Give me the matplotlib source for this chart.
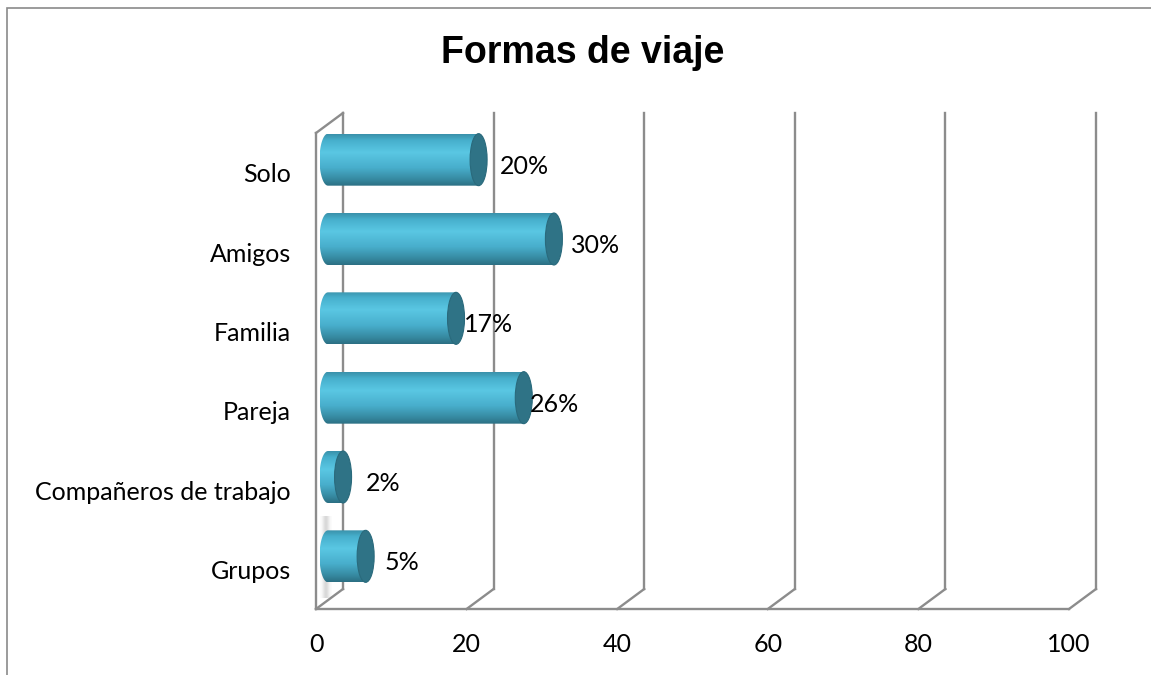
import matplotlib.pyplot as plt
import numpy as np
from matplotlib.patches import Ellipse, Polygon, Rectangle
from matplotlib.colors import to_rgb

# Datos
categorias = ['Grupos', 'Compañeros de trabajo', 'Pareja', 'Familia', 'Amigos', 'Solo']
valores = [5, 2, 26, 17, 30, 20]
ticks_x = [0, 20, 40, 60, 80, 100]

# separacion (px) de cada etiqueta de porcentaje respecto al final de la barra
nudge_px = [31, 35, 18, 20, 29, 33]

W, H = 1151, 675
fig = plt.figure(figsize=(W / 100, H / 100), dpi=100)
fig.patch.set_facecolor('white')

# marco del area del grafico (solo se ven el borde superior e izquierdo)
fig.patches.append(Rectangle((7 / W, -0.1), 1.2, 1 - 8 / H + 0.1, transform=fig.transFigure,
                             fill=False, ec='#8a8a8a', lw=1.2))

ax = fig.add_axes([316 / W, (H - 609) / H, 753 / W, 476 / H])
ax.set_xlim(0, 100)
ax.set_ylim(-0.5, 5.5)
for s in ax.spines.values():
    s.set_visible(False)

font = 'Lato'
fs = 18
ax.set_yticks(range(len(categorias)), categorias, fontsize=fs, family=font)
ax.set_xticks(ticks_x, [str(t) for t in ticks_x], fontsize=fs, family=font)
ax.tick_params(axis='y', length=0, pad=18)
ax.tick_params(axis='x', length=0, pad=17)

# pixeles por unidad de datos
ppx = 753 / 100
ppy = 476 / 6
# profundidad del plano de fondo y del plano de las barras
back_dx, back_dy = 27 / ppx, 20 / ppy
bar_dx, bar_dy = 12 / ppx, 13 / ppy

grid_kw = dict(color='#8c8c8c', lw=1.7, clip_on=False, zorder=1, solid_joinstyle='miter')

# pared izquierda y suelo
ax.plot([0, 0], [-0.5, 5.5], **grid_kw)
ax.plot([0, back_dx], [5.5, 5.5 + back_dy], **grid_kw)
ax.plot([0, 100], [-0.5, -0.5], **grid_kw)
for t in ticks_x:
    ax.plot([t, t + back_dx], [-0.5, -0.5 + back_dy], **grid_kw)
    ax.plot([t + back_dx, t + back_dx], [-0.5 + back_dy, 5.5 + back_dy], **grid_kw)

# degradado vertical del cilindro
stops = [(0.0, '#3a92ab'), (0.12, '#47b0cd'), (0.35, '#5ac7e3'),
         (0.65, '#48aecc'), (0.88, '#3689a0'), (1.0, '#2c7084')]
pos = np.linspace(0, 1, 64)
grad = np.zeros((64, 1, 3))
for c in range(3):
    grad[:, 0, c] = np.interp(pos, [p for p, _ in stops], [to_rgb(col)[c] for _, col in stops])

alto = 52 / ppy
ancho_tapa = 17 / ppx

# sombra difusa sobre la pared izquierda junto a la primera barra
sombra = np.ones((1, 32, 4)) * 0.55
sombra[0, :, 3] = np.exp(-((np.linspace(-1, 1, 32)) ** 2) * 3) * 0.35
sy0 = 0 + bar_dy - alto / 2 - 16 / ppy
sy1 = 0 + bar_dy + alto / 2 + 14 / ppy
ax.imshow(sombra, extent=[bar_dx - ancho_tapa * 0.45, bar_dx + ancho_tapa * 0.25, sy0, sy1],
          aspect='auto', zorder=2, interpolation='bicubic')

for i, v in enumerate(valores):
    yc = i + bar_dy
    x0 = bar_dx
    x1 = v + bar_dx
    y0, y1 = yc - alto / 2, yc + alto / 2
    # cuerpo con extremo izquierdo redondeado
    t = np.linspace(np.pi / 2, 3 * np.pi / 2, 40)
    pts = np.column_stack([x0 + ancho_tapa / 2 * np.cos(t), yc + alto / 2 * np.sin(t)])
    pts = np.vstack([pts, [[x1, y0], [x1, y1]]])
    clip = Polygon(pts, closed=True, transform=ax.transData, fc='none', ec='none')
    ax.add_patch(clip)
    im = ax.imshow(grad, extent=[x0 - ancho_tapa / 2, x1, y0, y1], aspect='auto',
                   origin='upper', zorder=3, interpolation='bilinear')
    im.set_clip_path(clip)
    # tapa
    ax.add_patch(Ellipse((x1, yc), ancho_tapa, alto, fc='#2f7386', ec='#2a6a7c',
                         lw=0.8, zorder=4))
    ax.annotate(f'{v}%', xy=(v, i), xytext=(nudge_px[i] * 0.72, 6.5 * 0.72),
                textcoords='offset points', ha='left', va='center',
                fontsize=fs, family=font, zorder=5)

ax.set_xlim(0, 100)
ax.set_ylim(-0.5, 5.5)

fig.text(583 / W, 1 - 53 / H, 'Formas de viaje', ha='center', va='center',
         fontsize=27, fontweight='bold', family='Liberation Sans')

fig.savefig('out.png', dpi=100)
